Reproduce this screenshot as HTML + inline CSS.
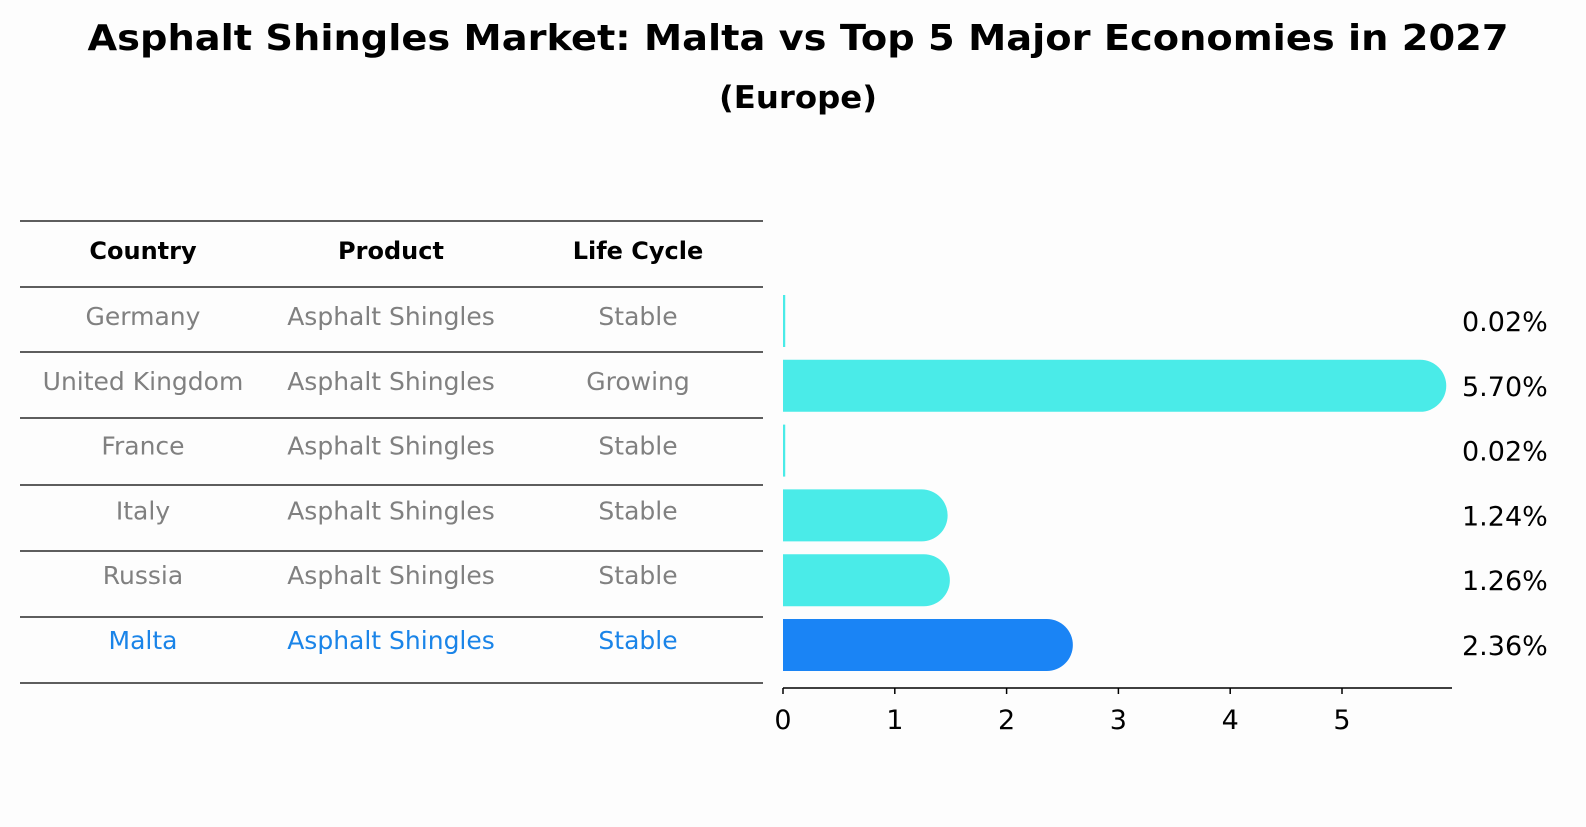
<!DOCTYPE html>
<html><head><meta charset="utf-8"><style>
body{margin:0;background:#fdfdfd;width:1586px;height:823px;overflow:hidden;font-family:"DejaVu Sans","Liberation Sans",sans-serif}
</style></head><body>
<svg width="1586" height="823" xmlns="http://www.w3.org/2000/svg" font-family="DejaVu Sans, Liberation Sans, sans-serif">
<text x="798" y="50" text-anchor="middle" font-size="36" font-weight="bold" textLength="1421" lengthAdjust="spacingAndGlyphs">Asphalt Shingles Market: Malta vs Top 5 Major Economies in 2027</text>
<text x="798" y="108" text-anchor="middle" font-size="31" font-weight="bold" textLength="158" lengthAdjust="spacingAndGlyphs">(Europe)</text>
<g id="table"></g>
<g id="bars"></g>
</svg>
<script>
const countries=["Germany","United Kingdom","France","Italy","Russia","Malta"];
const products=["Asphalt Shingles","Asphalt Shingles","Asphalt Shingles","Asphalt Shingles","Asphalt Shingles","Asphalt Shingles"];
const lifecycle=["Stable","Growing","Stable","Stable","Stable","Stable"];
const values=[0.02,5.70,0.02,1.24,1.26,2.36];
const ticks=[0,1,2,3,4,5];
const NS="http://www.w3.org/2000/svg";
function mk(tag,attrs,parent,text){const e=document.createElementNS(NS,tag);for(const k in attrs)e.setAttribute(k,attrs[k]);if(text!==undefined)e.textContent=text;parent.appendChild(e);return e;}
const tbl=document.getElementById('table'),bars=document.getElementById('bars');
const lineYs=[221,287,352,418,485,551,617,683];
lineYs.forEach(y=>{const l=mk('line',{x1:20,x2:763,y1:y,y2:y,stroke:'#000','stroke-width':1.2},tbl);

});
const colX=[143,391,638],heads=["Country","Product","Life Cycle"];
heads.forEach((h,i)=>{const t=mk('text',{x:colX[i],y:259,'text-anchor':'middle','font-size':24,'font-weight':'bold'},tbl,h);

});
const rowY=i=>321+i*64.8;
countries.forEach((c,i)=>{const col=c==="Malta"?'#1a84e8':'#808080';
[c,products[i],lifecycle[i]].forEach((v,j)=>{const t=mk('text',{x:colX[j],y:rowY(i)+4,'text-anchor':'middle','font-size':25,fill:col},tbl,v);

});});
const x0=783,ux=111.8,xs=v=>x0+v*ux,bh=52,r=26;
values.forEach((v,i)=>{const cy=rowY(i),col=countries[i]==="Malta"?'#1a84f5':'#4aebe8';
const xe=xs(v);let d;
if(v<0.1){d=`M${x0},${cy-bh/2}H${Math.max(xe,x0+2)}V${cy+bh/2}H${x0}Z`;}
else{d=`M${x0},${cy-bh/2}H${xe}A${r},${r} 0 0 1 ${xe},${cy+bh/2}H${x0}Z`;}
const p=mk('path',{d:d,fill:col},bars);


const t=mk('text',{x:1462,y:cy+10,'font-size':27},bars,values[i].toFixed(2)+'%');

});
const ax=mk('line',{x1:x0,x2:1452,y1:688,y2:688,stroke:'#000','stroke-width':1.5},bars);


ticks.forEach(t=>{const l=mk('line',{x1:xs(t),x2:xs(t),y1:688,y2:694,stroke:'#000','stroke-width':1.5},bars);


const tx=mk('text',{x:xs(t),y:729,'text-anchor':'middle','font-size':27},bars,String(t));

});
</script>
</body></html>
